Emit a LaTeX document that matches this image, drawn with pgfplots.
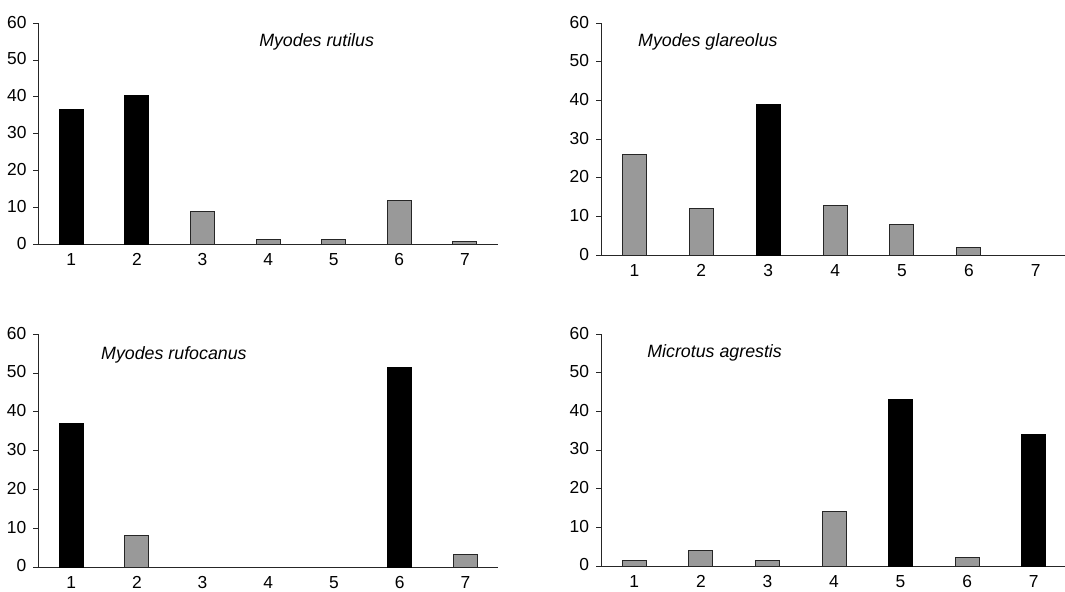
\documentclass[border=0pt]{standalone}
\usepackage{fontspec}
\setmainfont{Liberation Sans}
\usepackage{pgfplots}
\pgfplotsset{compat=1.18}
\definecolor{bargray}{gray}{0.6}
\tikzset{ttl/.style={font=\fontsize{8.9}{10}\selectfont\itshape}}
\pgfplotsset{
  panel/.style={
    scale only axis,
    anchor=south west,
    xmin=0.5, xmax=7.5, ymin=0, ymax=60,
    xtick={1,...,7}, ytick={0,10,...,60},
    axis x line=bottom, axis y line=left,
    axis line style={-, line width=0.5pt, black!85},
    x axis line style={-}, y axis line style={-},
    xtick style={draw=none},
    ytick style={line width=0.5pt, black!85},
    tick align=outside, major tick length=2.5pt,
    /pgf/number format/assume math mode=true,
    tick label style={font=\fontsize{8.7}{10}\selectfont},
    yticklabel style={xshift=0pt, yshift=0.6pt},
    xticklabel style={yshift=1.5pt},
    clip=false,
  },
  blackbar/.style={ybar, bar shift=0pt, bar width=12pt, fill=black, draw=black, line width=0.5pt},
  graybar/.style={ybar, bar shift=0pt, bar width=12pt, fill=bargray, draw=black!85, line width=0.5pt},
}
\begin{document}
\begin{tikzpicture}
\useasboundingbox (0,0) rectangle (532.5pt,295.5pt);
% Top-left: Myodes rutilus
\begin{axis}[panel, at={(19.25pt,173.35pt)}, width=229.6pt, height=110.5pt]
\addplot[blackbar] coordinates {(1,36.5) (2,40.4)};
\addplot[graybar] coordinates {(3,8.8) (4,1.25) (5,1.25) (6,11.8) (7,0.8)};
\node[ttl] at (axis cs:4.74,55) {Myodes rutilus};
\end{axis}
% Top-right: Myodes glareolus
\begin{axis}[panel, at={(300.5pt,167.85pt)}, width=234.1pt, height=116pt]
\addplot[blackbar] coordinates {(3,39)};
\addplot[graybar] coordinates {(1,26) (2,12) (4,13) (5,8) (6,2)};
\node[ttl, anchor=west] at (axis cs:0.95,55.2) {Myodes glareolus};
\end{axis}
% Bottom-left: Myodes rufocanus
\begin{axis}[panel, at={(19.15pt,12pt)}, width=230pt, height=116.35pt]
\addplot[blackbar] coordinates {(1,37) (6,51.5)};
\addplot[graybar] coordinates {(2,8) (7,3.35)};
\node[ttl, anchor=west] at (axis cs:1.35,54.7) {Myodes rufocanus};
\end{axis}
% Bottom-right: Microtus agrestis
\begin{axis}[panel, at={(300.5pt,12.5pt)}, width=233pt, height=115.85pt]
\addplot[blackbar] coordinates {(5,43) (7,34)};
\addplot[graybar] coordinates {(1,1.55) (2,4.07) (3,1.55) (4,14.06) (6,2.15)};
\node[ttl, anchor=west] at (axis cs:1.09,55.1) {Microtus agrestis};
\end{axis}
\end{tikzpicture}
\end{document}
